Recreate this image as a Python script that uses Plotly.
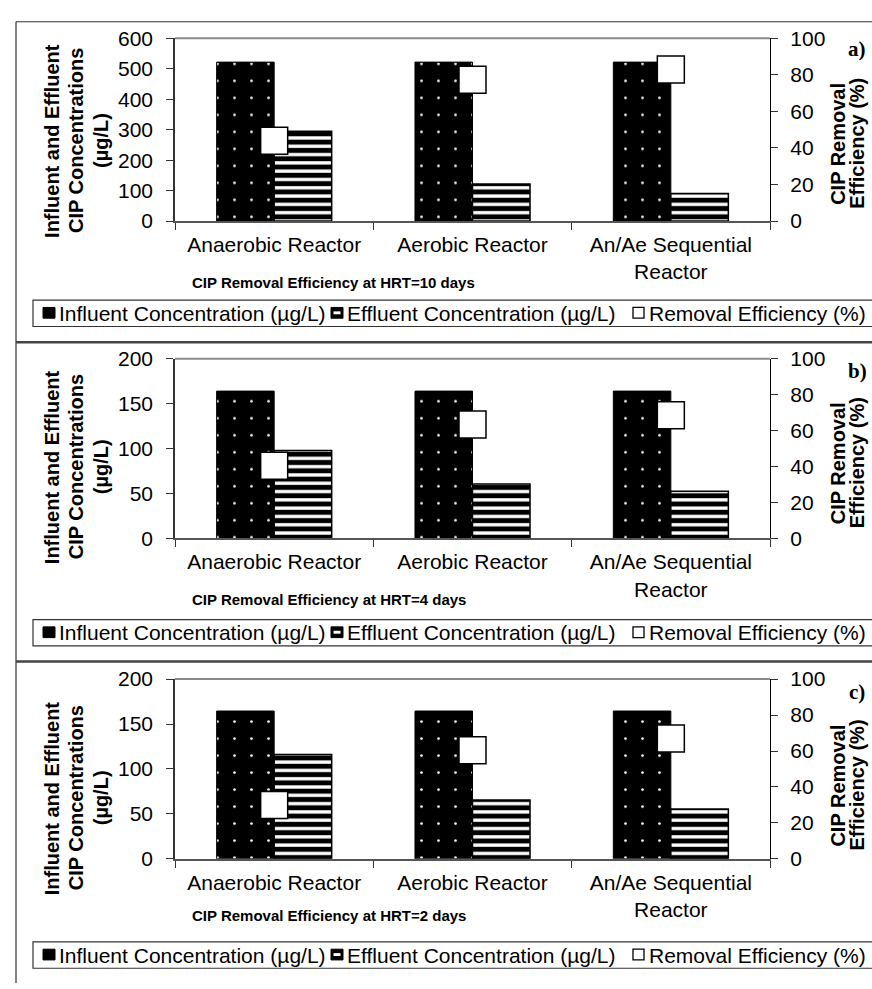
import plotly.graph_objects as go

W, H = 872, 989

# ---------------- data ----------------
categories = ["Anaerobic Reactor", "Aerobic Reactor", "An/Ae Sequential Reactor"]
tick_labels = ["Anaerobic Reactor", "Aerobic Reactor", "An/Ae Sequential<br>Reactor"]

influent_a = [522, 522, 522]
effluent_a = [295, 122, 90]
removal_a = [44, 77.3, 83]

influent_b = [164, 164, 164]
effluent_b = [98, 60.5, 52.5]
removal_b = [40.5, 63.4, 68.5]

influent_c = [164.5, 164.5, 164.5]
effluent_c = [116, 65.5, 55.5]
removal_c = [30, 60.4, 67]

panel_titles = ["CIP Removal Efficiency at HRT=10 days",
                "CIP Removal Efficiency at HRT=4 days",
                "CIP Removal Efficiency at HRT=2 days"]
panel_tags = ["a)", "b)", "c)"]
left_max = [600, 200, 200]
left_dtick = [100, 50, 50]
right_max = [100, 100, 100]
right_dtick = [20, 20, 20]
series_names = ["Influent Concentration (µg/L)",
                "Effluent Concentration (µg/L)",
                "Removal Efficiency (%)"]
left_title_lines = ["Influent and Effluent", "CIP Concentrations", "(µg/L)"]
right_title_lines = ["CIP Removal", "Efficiency (%)"]

influents = [influent_a, influent_b, influent_c]
effluents = [effluent_a, effluent_b, effluent_c]
removals = [removal_a, removal_b, removal_c]

# ---------------- layout geometry (pixels) ----------------
FONT = "Liberation Sans, Arial, sans-serif"
SERIF = "Liberation Serif, Times New Roman, serif"
plot_left, plot_right = 175, 770
plot_tops = [27, 355, 683]
plot_bots = [214, 539, 867]
title_y = [277, 601, 925]
legend_top = [295, 622, 952]
left_title_yc = [132, 466, 805]
right_title_yc = [135, 462, 792]
tag_y = [38, 368, 696]
separators = [338, 665]


def px(x):
    return x / W


def py(y):
    return 1 - y / H


fig = go.Figure()
shapes = []
annotations = []
layout_axes = {}

for i in range(3):
    xa = "x" if i == 0 else f"x{i + 1}"
    yl = f"y{2 * i + 1}" if i > 0 else "y"
    yr = f"y{2 * i + 2}"
    xa_key = "xaxis" if i == 0 else f"xaxis{i + 1}"
    yl_key = "yaxis" if i == 0 else f"yaxis{2 * i + 1}"
    yr_key = f"yaxis{2 * i + 2}"

    fig.add_trace(go.Bar(
        x=categories, y=influents[i], name=series_names[0],
        xaxis=xa, yaxis=yl, showlegend=False,
        marker=dict(color="black",
                    line=dict(color="black", width=1),
                    pattern=dict(shape=".", fgcolor="white", bgcolor="black",
                                 size=17, solidity=0.02, fillmode="replace")),
    ))
    fig.add_trace(go.Bar(
        x=categories, y=effluents[i], name=series_names[1],
        xaxis=xa, yaxis=yl, showlegend=False,
        marker=dict(color="black",
                    line=dict(color="black", width=1.5),
                    pattern=dict(shape="-", fgcolor="black", bgcolor="white",
                                 size=8.3, solidity=0.6, fillmode="replace")),
    ))
    fig.add_trace(go.Scatter(
        x=categories, y=removals[i], name=series_names[2], mode="markers",
        xaxis=xa, yaxis=yr, showlegend=False,
        marker=dict(symbol="square", size=27, color="white",
                    line=dict(color="black", width=1.5)),
    ))

    dom_y = [py(plot_bots[i]), py(plot_tops[i])]
    layout_axes[xa_key] = dict(
        domain=[px(plot_left), px(plot_right)], anchor=yl,
        categoryorder="array", categoryarray=categories,
        tickvals=categories, ticktext=tick_labels,
        tickson="boundaries", ticks="outside", ticklen=7, tickcolor="#333",
        showline=True, linecolor="#555", linewidth=1.5,
        tickfont=dict(family=FONT, size=21, color="black"),
        ticklabelstandoff=4,
        showgrid=False, zeroline=False, fixedrange=True,
    )
    layout_axes[yl_key] = dict(
        domain=dom_y, anchor=xa, range=[0, left_max[i]], dtick=left_dtick[i],
        tick0=0, ticks="outside", ticklen=7, tickcolor="#333",
        showline=True, linecolor="#333", linewidth=1.5,
        tickfont=dict(family=FONT, size=21, color="black"),
        ticklabelstandoff=9,
        showgrid=False, zeroline=False, fixedrange=True,
    )
    layout_axes[yr_key] = dict(
        domain=dom_y, anchor=xa, overlaying=yl, side="right",
        range=[0, right_max[i]], dtick=right_dtick[i], tick0=0,
        ticks="outside", ticklen=7, tickcolor="#333",
        showline=True, linecolor="black", linewidth=1.2,
        tickfont=dict(family=FONT, size=21, color="black"),
        ticklabelstandoff=8,
        showgrid=False, zeroline=False, fixedrange=True,
    )

    # gray top border of the plot area
    shapes.append(dict(type="line", xref="paper", yref="paper",
                       x0=px(plot_left), x1=px(plot_right),
                       y0=py(plot_tops[i]), y1=py(plot_tops[i]),
                       line=dict(color="#8a8a8a", width=2)))

    # axis titles
    for txt, xc in zip(left_title_lines, [52, 76, 101]):
        annotations.append(dict(text=f"<b>{txt}</b>", textangle=-90,
                                x=px(xc), y=py(left_title_yc[i]),
                                xref="paper", yref="paper", showarrow=False,
                                xanchor="center", yanchor="middle",
                                font=dict(family=FONT, size=20, color="black")))
    for txt, xc in zip(right_title_lines, [838, 857]):
        annotations.append(dict(text=f"<b>{txt}</b>", textangle=-90,
                                x=px(xc), y=py(right_title_yc[i]),
                                xref="paper", yref="paper", showarrow=False,
                                xanchor="center", yanchor="middle",
                                font=dict(family=FONT, size=20, color="black")))
    annotations.append(dict(text=f"<b>{panel_titles[i]}</b>",
                            x=px(190), y=py(title_y[i]), xref="paper", yref="paper",
                            showarrow=False, xanchor="left", yanchor="middle",
                            font=dict(family=FONT, size=15, color="black")))
    annotations.append(dict(text=f"<b>{panel_tags[i]}</b>",
                            x=px(857), y=py(tag_y[i]), xref="paper", yref="paper",
                            showarrow=False, xanchor="center", yanchor="middle",
                            font=dict(family=SERIF, size=21, color="black")))

    # legend (drawn)
    lt = legend_top[i]
    lb = lt + 27
    lc = (lt + lb) / 2
    shapes.append(dict(type="rect", xref="paper", yref="paper",
                       x0=px(33), x1=px(W + 5), y0=py(lt), y1=py(lb),
                       line=dict(color="#333", width=1.2), fillcolor="white",
                       layer="below"))
    sym_x = [43, 331, 633]
    txt_x = [57, 345, 647]
    for k in range(3):
        sx = sym_x[k]
        if k == 0:
            shapes.append(dict(type="rect", xref="paper", yref="paper",
                               x0=px(sx), x1=px(sx + 12), y0=py(lc - 6), y1=py(lc + 5),
                               line=dict(color="black", width=1), fillcolor="black"))
        elif k == 1:
            shapes.append(dict(type="rect", xref="paper", yref="paper",
                               x0=px(sx), x1=px(sx + 12), y0=py(lc - 6), y1=py(lc + 5),
                               line=dict(color="black", width=1), fillcolor="black"))
            shapes.append(dict(type="rect", xref="paper", yref="paper",
                               x0=px(sx + 2.5), x1=px(sx + 9.5), y0=py(lc - 2), y1=py(lc + 1),
                               line=dict(color="white", width=0), fillcolor="white"))
        else:
            shapes.append(dict(type="rect", xref="paper", yref="paper",
                               x0=px(sx), x1=px(sx + 11), y0=py(lc - 6), y1=py(lc + 5),
                               line=dict(color="black", width=1.3), fillcolor="white"))
        annotations.append(dict(text=series_names[k], x=px(txt_x[k]), y=py(lc),
                                xref="paper", yref="paper", showarrow=False,
                                xanchor="left", yanchor="middle",
                                font=dict(family=FONT, size=21, color="black")))

# outer frames
shapes.append(dict(type="line", xref="paper", yref="paper",
                   x0=px(16), x1=px(16), y0=py(10), y1=py(H + 5),
                   line=dict(color="#333", width=1.2)))
shapes.append(dict(type="line", xref="paper", yref="paper",
                   x0=px(16), x1=px(W + 5), y0=py(10), y1=py(10),
                   line=dict(color="#333", width=1.2)))
for s in separators:
    shapes.append(dict(type="line", xref="paper", yref="paper",
                       x0=px(16), x1=px(W + 5), y0=py(s), y1=py(s),
                       line=dict(color="#444", width=2.5)))

fig.update_layout(
    width=W, height=H,
    margin=dict(l=0, r=0, t=0, b=0),
    paper_bgcolor="white", plot_bgcolor="white",
    barmode="group", bargap=0.42, bargroupgap=0,
    showlegend=False,
    shapes=shapes, annotations=annotations,
    font=dict(family=FONT, color="black"),
    **layout_axes,
)

fig.write_html(
    "out.html",
    config={"displayModeBar": False},
    post_script="document.body.style.margin='0';document.body.style.overflow='hidden';",
)
